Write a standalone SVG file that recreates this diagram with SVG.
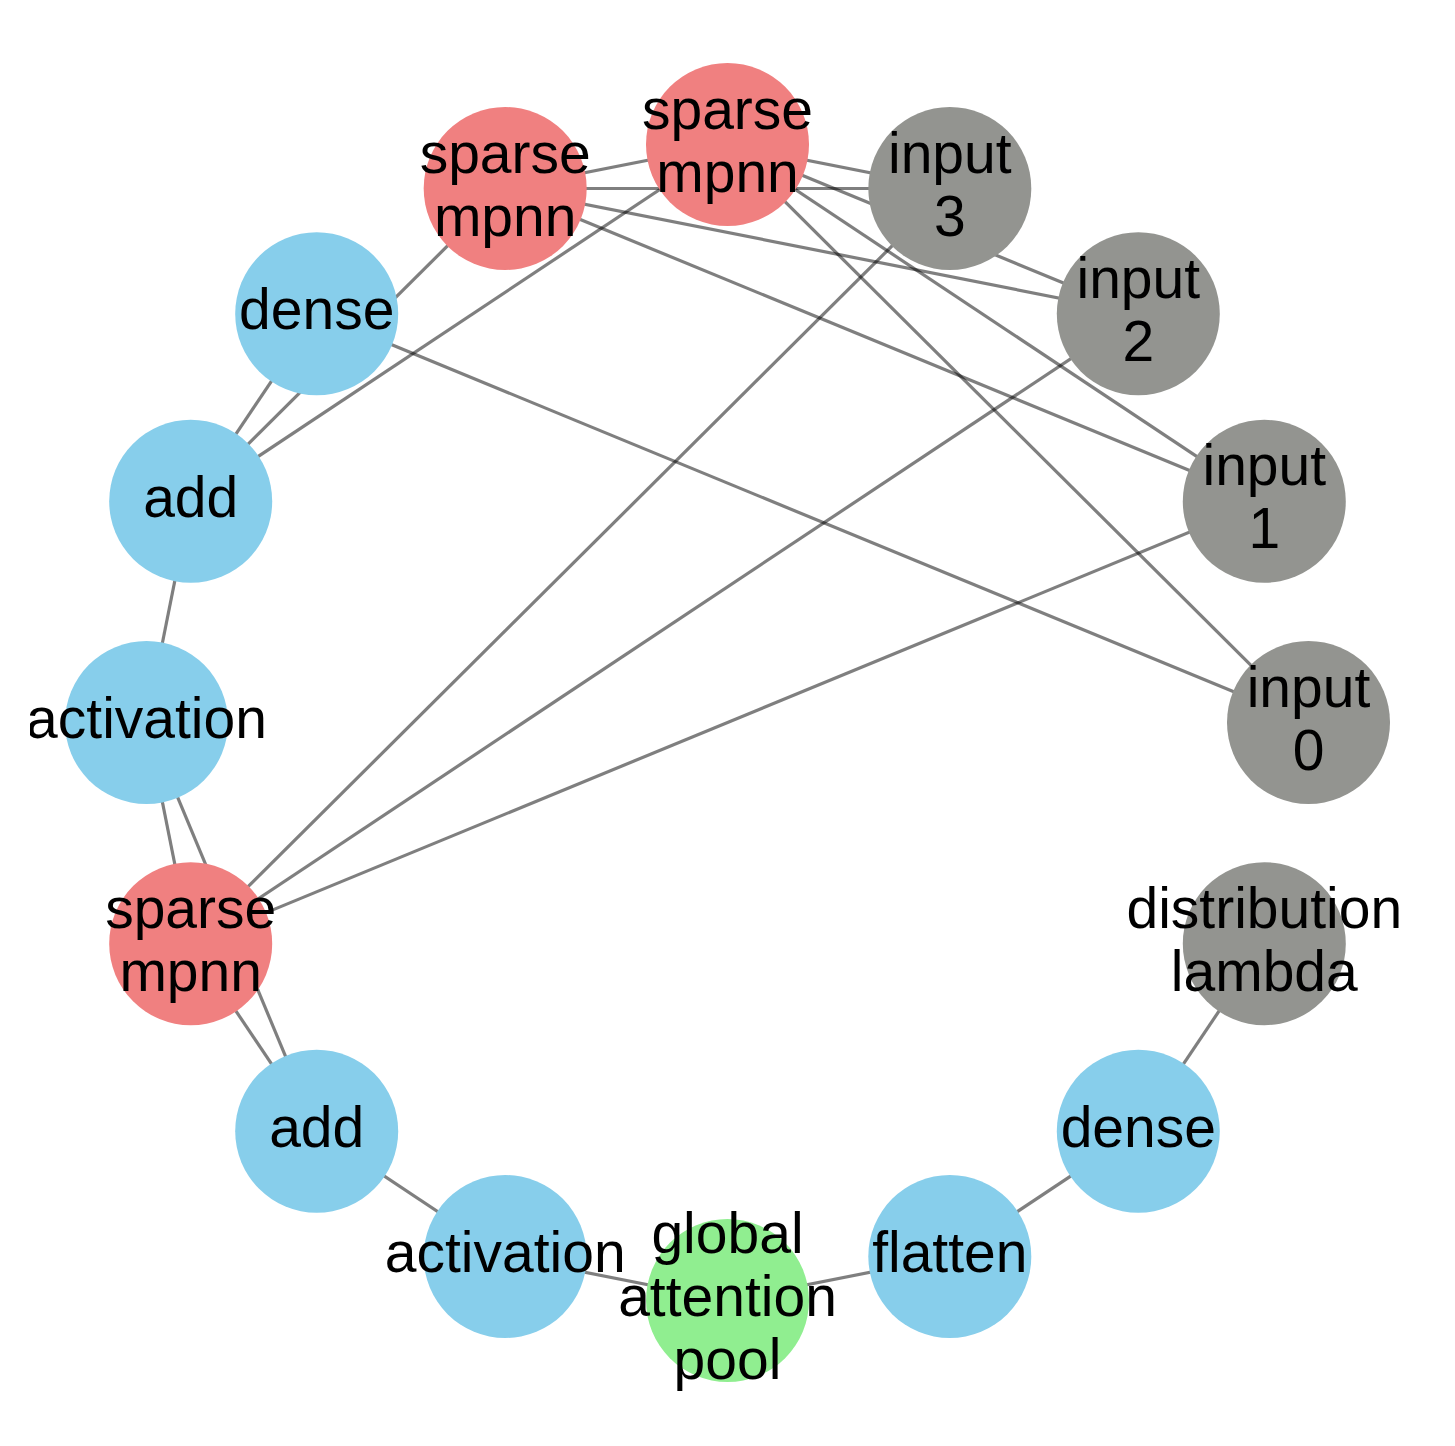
<svg xmlns="http://www.w3.org/2000/svg" width="1455" height="1446" viewBox="0 0 1455 1446">
<defs>
<style>
.e{stroke:#000;stroke-opacity:0.5;stroke-width:3.2;fill:none}
.n circle{stroke:none}
.red{fill:#F08080}
.blue{fill:#87CEEB}
.gray{fill:#939490}
.green{fill:#90EE90}
text{font-family:"Liberation Sans",Arial,Helvetica,sans-serif;font-size:57px;fill:#000;text-anchor:middle}
</style>
<clipPath id="ax"><rect x="30" y="0" width="1396" height="1446"/></clipPath>
</defs>
<rect width="1455" height="1446" fill="#fff"/>
<g id="edges">
<line class="e" x1="316.7" y1="313.8" x2="1308.5" y2="722.5"/>
<line class="e" x1="316.7" y1="313.8" x2="190.7" y2="501.3"/>
<line class="e" x1="190.7" y1="501.3" x2="505.2" y2="188.5"/>
<line class="e" x1="190.7" y1="501.3" x2="727.5" y2="144.5"/>
<line class="e" x1="190.7" y1="501.3" x2="146.5" y2="722.5"/>
<line class="e" x1="146.5" y1="722.5" x2="190.7" y2="943.7"/>
<line class="e" x1="146.5" y1="722.5" x2="316.7" y2="1131.2"/>
<line class="e" x1="190.7" y1="943.7" x2="949.8" y2="188.5"/>
<line class="e" x1="190.7" y1="943.7" x2="1138.3" y2="313.8"/>
<line class="e" x1="190.7" y1="943.7" x2="1264.3" y2="501.3"/>
<line class="e" x1="190.7" y1="943.7" x2="316.7" y2="1131.2"/>
<line class="e" x1="316.7" y1="1131.2" x2="505.2" y2="1256.5"/>
<line class="e" x1="505.2" y1="1256.5" x2="727.5" y2="1300.5"/>
<line class="e" x1="727.5" y1="1300.5" x2="949.8" y2="1256.5"/>
<line class="e" x1="949.8" y1="1256.5" x2="1138.3" y2="1131.2"/>
<line class="e" x1="1138.3" y1="1131.2" x2="1264.3" y2="943.7"/>
<line class="e" x1="727.5" y1="144.5" x2="505.2" y2="188.5"/>
<line class="e" x1="505.2" y1="188.5" x2="949.8" y2="188.5"/>
<line class="e" x1="505.2" y1="188.5" x2="1138.3" y2="313.8"/>
<line class="e" x1="505.2" y1="188.5" x2="1264.3" y2="501.3"/>
<line class="e" x1="727.5" y1="144.5" x2="949.8" y2="188.5"/>
<line class="e" x1="727.5" y1="144.5" x2="1138.3" y2="313.8"/>
<line class="e" x1="727.5" y1="144.5" x2="1264.3" y2="501.3"/>
<line class="e" x1="727.5" y1="144.5" x2="1308.5" y2="722.5"/>
</g>
<g id="nodes" class="n">
<g id="input0"><circle class="gray" cx="1308.5" cy="722.5" r="81.5"/></g>
<g id="input1"><circle class="gray" cx="1264.3" cy="501.3" r="81.5"/></g>
<g id="input2"><circle class="gray" cx="1138.3" cy="313.8" r="81.5"/></g>
<g id="input3"><circle class="gray" cx="949.8" cy="188.5" r="81.5"/></g>
<g id="mpnn_top"><circle class="red" cx="727.5" cy="144.5" r="81.5"/></g>
<g id="mpnn_ul"><circle class="red" cx="505.2" cy="188.5" r="81.5"/></g>
<g id="dense_l"><circle class="blue" cx="316.7" cy="313.8" r="81.5"/></g>
<g id="add_l"><circle class="blue" cx="190.7" cy="501.3" r="81.5"/></g>
<g id="activation_l"><circle class="blue" cx="146.5" cy="722.5" r="81.5"/></g>
<g id="mpnn_l"><circle class="red" cx="190.7" cy="943.7" r="81.5"/></g>
<g id="add_b"><circle class="blue" cx="316.7" cy="1131.2" r="81.5"/></g>
<g id="activation_b"><circle class="blue" cx="505.2" cy="1256.5" r="81.5"/></g>
<g id="pool"><circle class="green" cx="727.5" cy="1300.5" r="81.5"/></g>
<g id="flatten"><circle class="blue" cx="949.8" cy="1256.5" r="81.5"/></g>
<g id="dense_r"><circle class="blue" cx="1138.3" cy="1131.2" r="81.5"/></g>
<g id="dist_lambda"><circle class="gray" cx="1264.3" cy="943.7" r="81.5"/></g>
</g>
<g id="labels" clip-path="url(#ax)">
<text x="1308.5" y="706.5">input</text><text x="1308.5" y="769.5">0</text>
<text x="1264.3" y="485.3">input</text><text x="1264.3" y="548.3">1</text>
<text x="1138.3" y="297.8">input</text><text x="1138.3" y="360.8">2</text>
<text x="949.8" y="172.5">input</text><text x="949.8" y="235.5">3</text>
<text x="727.5" y="128.5">sparse</text><text x="727.5" y="191.5">mpnn</text>
<text x="505.2" y="172.5">sparse</text><text x="505.2" y="235.5">mpnn</text>
<text x="316.7" y="329.3">dense</text>
<text x="190.7" y="516.8">add</text>
<text x="146.5" y="738">activation</text>
<text x="190.7" y="927.7">sparse</text><text x="190.7" y="990.7">mpnn</text>
<text x="316.7" y="1146.7">add</text>
<text x="505.2" y="1272">activation</text>
<text x="727.5" y="1253">global</text><text x="727.5" y="1316">attention</text><text x="727.5" y="1379">pool</text>
<text x="949.8" y="1272">flatten</text>
<text x="1138.3" y="1146.7">dense</text>
<text x="1264.3" y="927.7">distribution</text><text x="1264.3" y="990.7">lambda</text>
</g>
</svg>
